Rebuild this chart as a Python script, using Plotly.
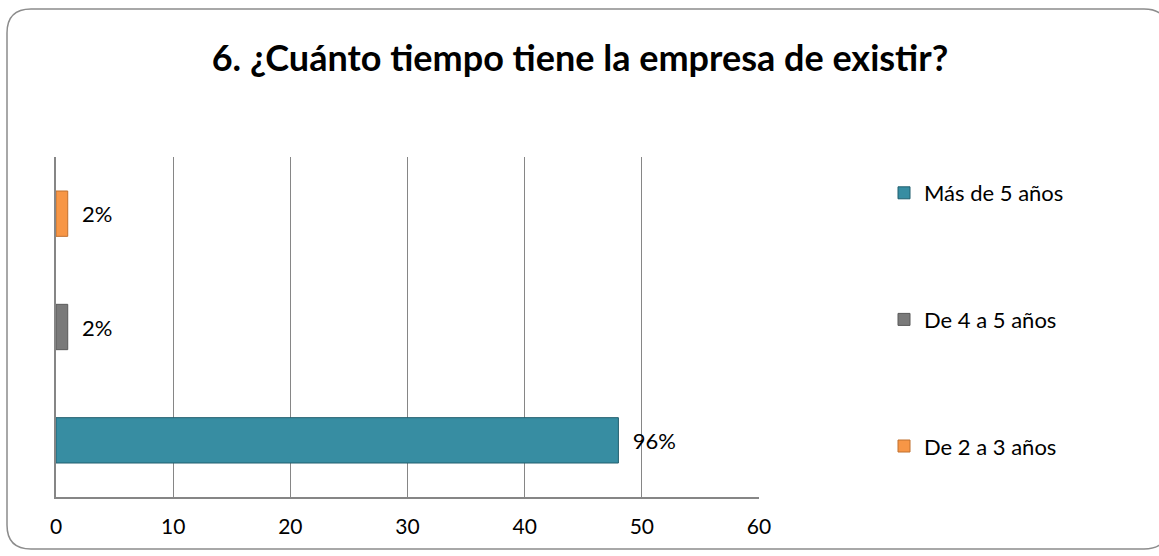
import plotly.graph_objects as go

# Survey answers: share of companies by age
categorias = ["Más de 5 años", "De 4 a 5 años", "De 2 a 3 años"]
valores = [48, 1, 1]
etiquetas = ["96%", "2%", "2%"]
colores = ["#378DA2", "#7A7A7A", "#F79646"]
bordes = ["#215E6E", "#595959", "#C0702F"]
ticks_x = [0, 10, 20, 30, 40, 50, 60]

W, H = 1159, 556
L, R, T, B = 56, 400, 157, 59
FUENTE = "Lato"

fig = go.Figure()

for i, (cat, val, txt, col, bor) in enumerate(zip(categorias, valores, etiquetas, colores, bordes)):
    fig.add_trace(go.Bar(
        y=[cat], x=[val], orientation="h", name=cat,
        marker=dict(color=col, line=dict(color=bor, width=1)),
        text=["  " + txt], textposition="outside", constraintext="none",
        textfont=dict(family=FUENTE, size=22, color="#000000"),
        cliponaxis=False, width=0.4,
        legendgroup=cat, legendrank=i + 1,
    ))


def px_x(p):
    return (p - L) / (W - L - R)


def px_y(p):
    return 1 - (p - T) / (H - T - B)


# Rounded chart frame
x0, x1, y0, y1, r = 7, 1168, 9, 549, 24
path = (
    f"M {px_x(x0 + r)} {px_y(y0)} L {px_x(x1 - r)} {px_y(y0)} "
    f"Q {px_x(x1)} {px_y(y0)} {px_x(x1)} {px_y(y0 + r)} "
    f"L {px_x(x1)} {px_y(y1 - r)} Q {px_x(x1)} {px_y(y1)} {px_x(x1 - r)} {px_y(y1)} "
    f"L {px_x(x0 + r)} {px_y(y1)} Q {px_x(x0)} {px_y(y1)} {px_x(x0)} {px_y(y1 - r)} "
    f"L {px_x(x0)} {px_y(y0 + r)} Q {px_x(x0)} {px_y(y0)} {px_x(x0 + r)} {px_y(y0)} Z"
)
fig.add_shape(type="path", path=path, xref="paper", yref="paper",
              line=dict(color="#8C8C8C", width=1.5), layer="below")

fig.update_layout(
    width=W, height=H,
    margin=dict(l=L, r=R, t=T, b=B, pad=0),
    paper_bgcolor="white", plot_bgcolor="white",
    barmode="overlay",
    title=dict(text="<b>6. ¿Cuánto tiempo tiene la empresa de existir?</b>",
               x=580 / W, xanchor="center",
               y=1 - 58 / H, yanchor="middle",
               font=dict(family=FUENTE, size=36, color="#000000")),
    xaxis=dict(range=[0, 60], tickvals=ticks_x, showgrid=True,
               gridcolor="#868686", gridwidth=1,
               showline=True, linecolor="#868686", linewidth=1.5,
               zeroline=False, ticks="", ticklabelstandoff=10,
               tickfont=dict(family=FUENTE, size=21, color="#000000")),
    yaxis=dict(categoryorder="array", categoryarray=categorias,
               showticklabels=False, showgrid=False,
               showline=True, linecolor="#868686", linewidth=1.5,
               zeroline=False, ticks=""),
    legend=dict(x=px_x(884), xanchor="left", y=px_y(172), yanchor="top",
                tracegroupgap=95, itemwidth=30,
                font=dict(family=FUENTE, size=22, color="#000000"),
                bgcolor="rgba(0,0,0,0)"),
    showlegend=True,
)

fig.write_html("out.html")
